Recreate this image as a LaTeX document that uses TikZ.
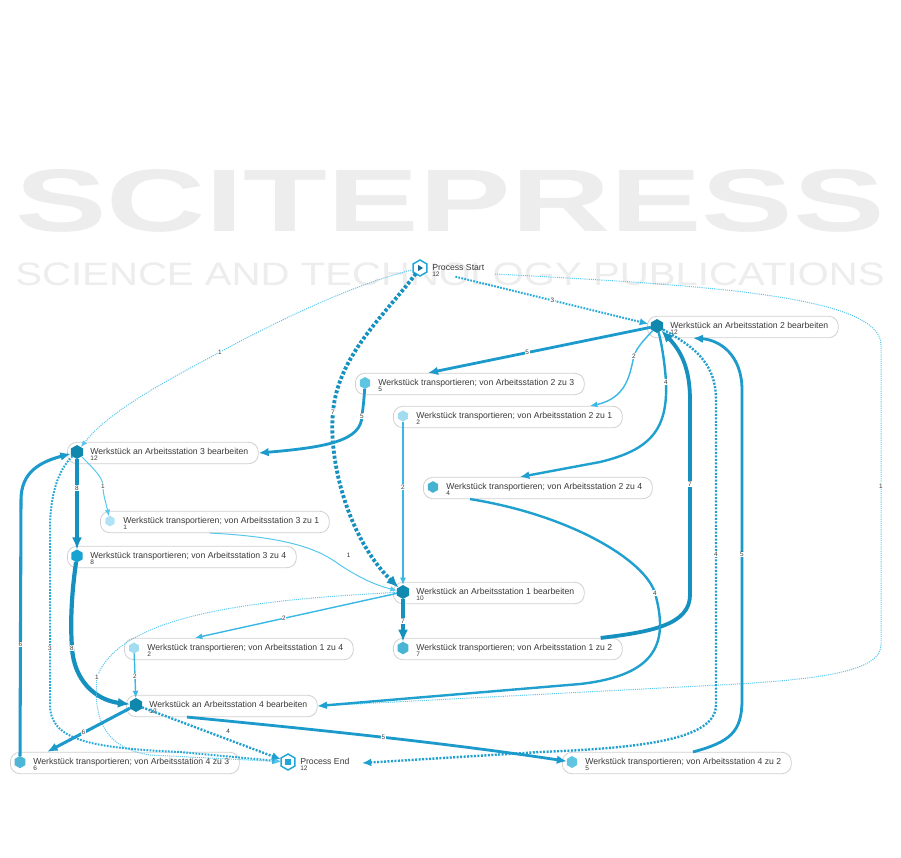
\documentclass[tikz,border=0pt]{standalone}
\usepackage{fontspec}
\usepackage{graphicx}
\setmainfont{Liberation Sans}
\usetikzlibrary{arrows.meta,shapes.geometric,calc}
\definecolor{txt}{HTML}{3A3A3A}
\definecolor{wm}{HTML}{EDEDED}
\definecolor{bordergray}{HTML}{D0D0D0}
\definecolor{c1}{HTML}{58C7EE}
\definecolor{c2}{HTML}{38B8E4}
\definecolor{c3}{HTML}{27A9D9}
\definecolor{c4}{HTML}{20A0CF}
\definecolor{c5}{HTML}{1B9ACB}
\definecolor{c7}{HTML}{1590BF}
\definecolor{h12}{HTML}{1087AD}
\definecolor{h10}{HTML}{118AB0}
\definecolor{h8}{HTML}{18A3D2}
\definecolor{h7}{HTML}{48B5D4}
\definecolor{h6}{HTML}{4DB7D5}
\definecolor{h5}{HTML}{60C5E3}
\definecolor{h4}{HTML}{45B2D2}
\definecolor{h2}{HTML}{A2DCF0}
\definecolor{h1}{HTML}{B2E3F4}
\definecolor{iconc}{HTML}{20A6D8}
\definecolor{icond}{HTML}{1B6E98}
\newcommand{\nodetext}[2]{\raisebox{-0.75pt}[0pt][0pt]{\begin{tabular}[t]{@{}l@{}}#1\\[-2.8pt]{\fontsize{4.9}{5}\selectfont #2}\end{tabular}}}
\newcommand{\boxtext}[2]{\hspace*{9.75pt}\nodetext{#1}{#2}}
\tikzset{
  wbox/.style={draw=bordergray, line width=0.6pt, fill=white, rounded corners=7pt,
    minimum height=16pt, inner xsep=7.5pt, inner ysep=0pt, anchor=west,
    font=\fontsize{6.5}{7.8}\selectfont, text=txt},
  plain/.style={inner sep=0pt, anchor=west, font=\fontsize{6.5}{7.8}\selectfont, text=txt},
  hex/.style={regular polygon, regular polygon sides=6, shape border rotate=90,
    inner sep=0pt, outer sep=0pt, minimum size=#1},
  lbl/.style={font=\fontsize{4.8}{5}\selectfont, text=txt, fill=white, inner sep=0.4pt},
  wmark/.style={inner sep=0pt, text=wm},
  f1/.style={draw=c1, line width=0.75pt, -{Latex[length=5pt,width=4pt]}},
  f2/.style={draw=c2, line width=1.05pt, -{Latex[length=5.5pt,width=4.5pt]}},
  f3/.style={draw=c3, line width=1.5pt, -{Latex[length=6.5pt,width=5.5pt]}},
  f4/.style={draw=c4, line width=1.8pt, -{Latex[length=7pt,width=6pt]}},
  f5/.style={draw=c5, line width=2.1pt, -{Latex[length=7.5pt,width=6.5pt]}},
  f6/.style={draw=c5, line width=2.3pt, -{Latex[length=8pt,width=6.5pt]}},
  f7/.style={draw=c7, line width=2.85pt, -{Latex[length=9pt,width=7.5pt]}},
  f8/.style={draw=c7, line width=3.15pt, -{Latex[length=9pt,width=7.5pt]}},
  dotpat1/.style={dash pattern=on 0.8pt off 0.8pt},
  dotpat3/.style={dash pattern=on 1.3pt off 1pt},
  dotpat4/.style={dash pattern=on 1.5pt off 1.1pt},
  dotpat7/.style={dash pattern=on 2.3pt off 1.5pt},
}
\begin{document}
\begin{tikzpicture}[x=0.75pt,y=-0.75pt]
\useasboundingbox (0,0) rectangle (901,858);
\fill[white] (0,0) rectangle (901,858);

% ---- watermark ----
\node[wmark] (wm1) at (450,201) {\resizebox{652pt}{46.5pt}{\bfseries SCITEPRESS}};
\node[wmark] (wm2) at (450,274) {\resizebox{652pt}{17pt}{SCIENCE AND TECHNOLOGY PUBLICATIONS}};

% ---- nodes ----
\node[hex=12pt, draw=iconc, line width=1.1pt, fill=white] (PS) at (420,268) {};
\fill[icond] ($(PS)+(-1.8,-3)$) -- ($(PS)+(3,0)$) -- ($(PS)+(-1.8,3)$) -- cycle;
\node[plain] (PSt) at ($(PS)+(12,1)$) {\nodetext{Process Start}{12}};

\node[wbox] (W2b) at (647,327) {\boxtext{Werkstück an Arbeitsstation 2 bearbeiten}{12}};
\node[hex=10.5pt, fill=h12] (W2) at ($(W2b.west)+(10,-1)$) {};

\node[wbox] (T23b) at (355,384) {\boxtext{Werkstück transportieren; von Arbeitsstation 2 zu 3}{5}};
\node[hex=9pt, fill=h5] (T23) at ($(T23b.west)+(10,-1)$) {};

\node[wbox] (T21b) at (393,417) {\boxtext{Werkstück transportieren; von Arbeitsstation 2 zu 1}{2}};
\node[hex=8.3pt, fill=h2] (T21) at ($(T21b.west)+(10,-1)$) {};

\node[wbox] (W3b) at (67,453) {\boxtext{Werkstück an Arbeitsstation 3 bearbeiten}{12}};
\node[hex=10.5pt, fill=h12] (W3) at ($(W3b.west)+(10,-1)$) {};

\node[wbox] (T24b) at (423,488) {\boxtext{Werkstück transportieren; von Arbeitsstation 2 zu 4}{4}};
\node[hex=8.8pt, fill=h4] (T24) at ($(T24b.west)+(10,-1)$) {};

\node[wbox] (T31b) at (100,522) {\boxtext{Werkstück transportieren; von Arbeitsstation 3 zu 1}{1}};
\node[hex=8pt, fill=h1] (T31) at ($(T31b.west)+(10,-1)$) {};

\node[wbox] (T34b) at (67,557) {\boxtext{Werkstück transportieren; von Arbeitsstation 3 zu 4}{8}};
\node[hex=9.8pt, fill=h8] (T34) at ($(T34b.west)+(10,-1)$) {};

\node[wbox] (W1b) at (393,593) {\boxtext{Werkstück an Arbeitsstation 1 bearbeiten}{10}};
\node[hex=10.5pt, fill=h10] (W1) at ($(W1b.west)+(10,-1)$) {};

\node[wbox] (T14b) at (124,649) {\boxtext{Werkstück transportieren; von Arbeitsstation 1 zu 4}{2}};
\node[hex=8.3pt, fill=h2] (T14) at ($(T14b.west)+(10,-1)$) {};

\node[wbox] (T12b) at (393,649) {\boxtext{Werkstück transportieren; von Arbeitsstation 1 zu 2}{7}};
\node[hex=9.5pt, fill=h7] (T12) at ($(T12b.west)+(10,-1)$) {};

\node[wbox] (W4b) at (126,706) {\boxtext{Werkstück an Arbeitsstation 4 bearbeiten}{12}};
\node[hex=10.5pt, fill=h12] (W4) at ($(W4b.west)+(10,-1)$) {};

\node[wbox] (T43b) at (10,763) {\boxtext{Werkstück transportieren; von Arbeitsstation 4 zu 3}{6}};
\node[hex=9.3pt, fill=h6] (T43) at ($(T43b.west)+(10,-1)$) {};

\node[wbox] (T42b) at (562,763) {\boxtext{Werkstück transportieren; von Arbeitsstation 4 zu 2}{5}};
\node[hex=9pt, fill=h5] (T42) at ($(T42b.west)+(10,-1)$) {};

\node[hex=12pt, draw=iconc, line width=1.1pt, fill=white] (PE) at (288,762) {};
\fill[iconc] ($(PE)+(-2.6,-2.6)$) rectangle ($(PE)+(2.6,2.6)$);
\node[plain] (PEt) at ($(PE)+(12,1)$) {\nodetext{Process End}{12}};

\coordinate (PSr) at ($(PS)+(75,6)$);
\coordinate (PEr) at ($(PE)+(74,1)$);

% ---- connectors ----
% from Process Start
\draw[f3, dotpat3, shorten <=22pt, shorten >=2pt] (PS) -- node[lbl,pos=0.56]{3} (W2);
\draw[f1, dotpat1] (PS) .. controls (350,285) and (270,325) .. (220,352) node[lbl]{1}
   .. controls (170,379) and (110,410) .. (W3);
\draw[f7, dotpat7] (PS) .. controls (385,315) and (338,355) .. (333,412) node[lbl]{7}
   .. controls (328,464) and (350,540) .. (W1);
\draw[f1, dotpat1] (PSr) .. controls (700,285) and (881,295) .. (881,345)
   -- node[lbl,pos=0.47]{1} (881,645) .. controls (881,675) and (800,681) .. (700,686) -- (W4b.east);

% from W2
\draw[f5] (W2) -- node[lbl,pos=0.555]{5} ($(T23b.north west)+(73,0)$);
\draw[f2] (W2) .. controls (644,340) and (637,347) .. (634,356) node[lbl]{2}
   .. controls (630,372) and (628,398) .. ($(T21b.north west)+(197,0)$);
\draw[f4] (W2) .. controls (662,345) and (665,365) .. (666,382) node[lbl]{4}
   .. controls (668,430) and (650,450) .. (600,462) -- ($(T24b.north west)+(97,0)$);
\draw[f4, dotpat4] (W2) .. controls (690,345) and (716,360) .. (716,400)
   -- node[lbl,pos=0.505]{4} (716,705) .. controls (716,740) and (640,748) .. (540,752) -- (PEr);

% into W2
\draw[f7] ($(T12b.north east)+(-22,0)$) .. controls (650,632) and (690,625) .. (690,595)
   -- node[lbl,pos=0.57]{7} (690,400) .. controls (690,370) and (682,352) .. (W2);
\draw[f5] ($(T42b.north west)+(131,0)$) .. controls (730,742) and (742,732) .. (742,700)
   -- node[lbl,pos=0.47]{5} (742,390) .. controls (742,355) and (720,340) .. ($(W2b.south west)+(46,0)$);

% transports
\draw[f5] (T23) .. controls (364,400) and (363,408) .. (362,416) node[lbl]{5}
   .. controls (361,440) and (330,447) .. (W3b.east);
\draw[f2] (T21) -- node[lbl,pos=0.4]{2} (W1);
\draw[f4] ($(T24b.south west)+(47,0)$) .. controls (570,515) and (645,560) .. (655,593) node[lbl]{4}
   .. controls (668,640) and (660,675) .. (580,684) -- (W4b.east);

% from W3
\draw[f1] (W3) .. controls (95,470) and (103,478) .. (103,486) node[lbl]{1}
   .. controls (103,495) and (106,503) .. (T31);
\draw[f8] (W3) -- node[lbl,pos=0.32]{8} (T34);
\draw[f3, dotpat3] (W3) .. controls (58,470) and (50,495) .. (50,530)
   -- node[lbl,pos=0.674]{3} (50,705) .. controls (50,740) and (90,748) .. (180,752) -- (PE);

\draw[f1] ($(T31b.south west)+(110,0)$) .. controls (290,537) and (320,550) .. (340,565)
   node[lbl,xshift=6.5pt,yshift=7pt]{1} .. controls (360,578) and (375,585) .. (W1);
\draw[f8] (T34) .. controls (72,590) and (70,620) .. (72,648) node[lbl]{8}
   .. controls (74,680) and (95,700) .. (W4);
\draw[f6] (T43) -- node[lbl,pos=0.435]{6} (21,500) .. controls (21,472) and (40,462) .. (W3);

% from W1
\draw[f2] (W1) -- node[lbl,pos=0.56]{2} ($(T14b.north west)+(71,0)$);
\draw[f7] (W1) -- node[lbl,pos=0.52]{7} (T12);
\draw[f1, dotpat1] (W1) .. controls (250,600) and (120,615) .. (97,677) node[lbl]{1}
   .. controls (93,720) and (105,748) .. (150,755) -- (PE);

\draw[f2] (T14) -- node[lbl,pos=0.5]{2} (W4);

% from W4
\draw[f6] (W4) -- node[lbl,pos=0.56]{6} ($(T43b.north west)+(37,0)$);
\draw[f4, dotpat4] (W4) -- node[lbl,pos=0.62,yshift=6pt]{4} (PE);
\draw[f5] ($(W4b.south west)+(61,0)$) .. controls (300,728) and (440,742) .. (T42) node[lbl,pos=0.53]{5};
\end{tikzpicture}
\end{document}
